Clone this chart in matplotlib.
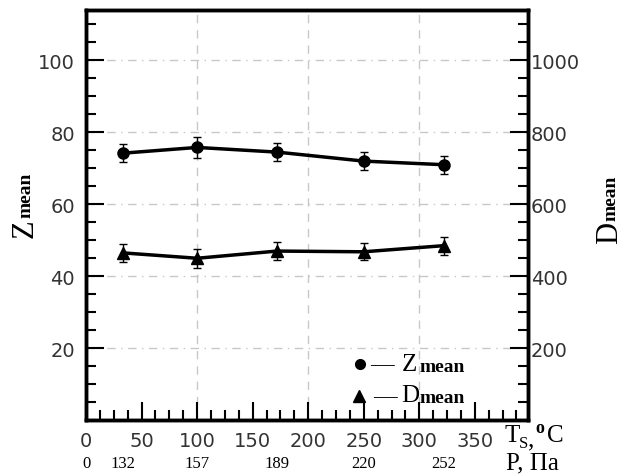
import matplotlib.pyplot as plt
from matplotlib.ticker import MultipleLocator

# data
ts = [33, 100, 172, 250, 322]
p_labels = ["0", "132", "157", "189", "220", "252"]
p_pos = [0, 33, 100, 172, 250, 322]
zmean = [74.2, 75.8, 74.5, 72.0, 71.0]
zerr = [2.5, 2.8, 2.6, 2.4, 2.5]
dmean = [46.5, 45.0, 47.0, 46.8, 48.5]   # in units of Dmean/10
derr = [2.4, 2.6, 2.5, 2.4, 2.5]
xticks = [0, 50, 100, 150, 200, 250, 300, 350]

serif = 'Liberation Serif'

fig = plt.figure(figsize=(6.28, 4.77), dpi=100)
ax = fig.add_axes([0.137, 0.117, 0.704, 0.860])

ax.errorbar(ts, zmean, yerr=zerr, color='black', lw=2.5, marker='o', ms=8,
            capsize=3, elinewidth=1, capthick=1, zorder=3)
ax.errorbar(ts, dmean, yerr=derr, color='black', lw=2.5, marker='^', ms=9,
            capsize=3, elinewidth=1, capthick=1, zorder=3)

ax.set_xlim(0, 398)
ax.set_ylim(0, 114)
ax.set_xticks(xticks)
ax.xaxis.set_minor_locator(MultipleLocator(12.5))
ax.set_yticks([20, 40, 60, 80, 100])
ax.yaxis.set_minor_locator(MultipleLocator(5))

# grid
for g in [100, 200, 300]:
    ax.axvline(g, color='#c8c8c8', ls=(0, (6, 5)), lw=1, zorder=0)
for g in [20, 40, 60, 80, 100]:
    ax.axhline(g, color='#c8c8c8', ls=(0, (6, 4, 1, 4)), lw=1, zorder=0)

for s in ax.spines.values():
    s.set_linewidth(2.5)

ax.tick_params(which='both', direction='in', width=1.5, top=False, right=False,
               labelsize=14, pad=8, labelcolor='#333333')
ax.tick_params(which='major', length=13)
ax.tick_params(which='minor', length=7)

ax2 = ax.twinx()
ax2.set_ylim(0, 1140)
ax2.set_yticks([200, 400, 600, 800, 1000])
ax2.yaxis.set_minor_locator(MultipleLocator(50))
ax2.tick_params(which='both', direction='in', width=1.5, labelsize=14, pad=2,
                labelcolor='#333333')
ax2.tick_params(which='major', length=13)
ax2.tick_params(which='minor', length=7)
for s in ax2.spines.values():
    s.set_linewidth(2.5)

# axis titles (rotated, Z below "mean")
fig.text(0.040, 0.521, 'Z', rotation=90, fontsize=22, family=serif,
         ha='center', va='center')
fig.text(0.042, 0.590, 'mean', rotation=90, fontsize=14, fontweight='bold',
         family=serif, ha='center', va='center')
fig.text(0.971, 0.511, 'D', rotation=90, fontsize=22, family=serif,
         ha='center', va='center')
fig.text(0.973, 0.585, 'mean', rotation=90, fontsize=14, fontweight='bold',
         family=serif, ha='center', va='center')

# x axis titles
fig.text(0.803, 0.087, 'T', fontsize=18, family=serif, ha='left', va='center')
fig.text(0.827, 0.070, 'S', fontsize=12, family=serif, ha='left', va='center')
fig.text(0.840, 0.076, ',', fontsize=18, family=serif, ha='left', va='center')
fig.text(0.852, 0.102, 'o', fontsize=13, family=serif, fontweight='bold',
         ha='left', va='center')
fig.text(0.871, 0.087, 'C', fontsize=18, family=serif, ha='left', va='center')
fig.text(0.805, 0.028, 'P, Па', fontsize=18, family=serif, ha='left', va='center')

# pressure row
for pos, lab in zip(p_pos, p_labels):
    xf = 0.137 + 0.704 * pos / 398
    fig.text(xf, 0.027, lab, fontsize=12, family=serif, ha='center', va='center')

# legend
ax.plot([247], [15.5], 'o', color='black', ms=7)
ax.text(256, 15.5, '—', fontsize=17, family=serif, va='center')
ax.text(284, 15.7, 'Z', fontsize=18, family=serif, va='center')
ax.text(300, 15.0, 'mean', fontsize=14, family=serif, fontweight='bold', va='center')
ax.plot([246], [6.7], '^', color='black', ms=9)
ax.text(258, 6.7, '—', fontsize=17, family=serif, va='center')
ax.text(284, 6.9, 'D', fontsize=18, family=serif, va='center')
ax.text(300, 6.2, 'mean', fontsize=14, family=serif, fontweight='bold', va='center')

fig.savefig('out.png', dpi=100)
